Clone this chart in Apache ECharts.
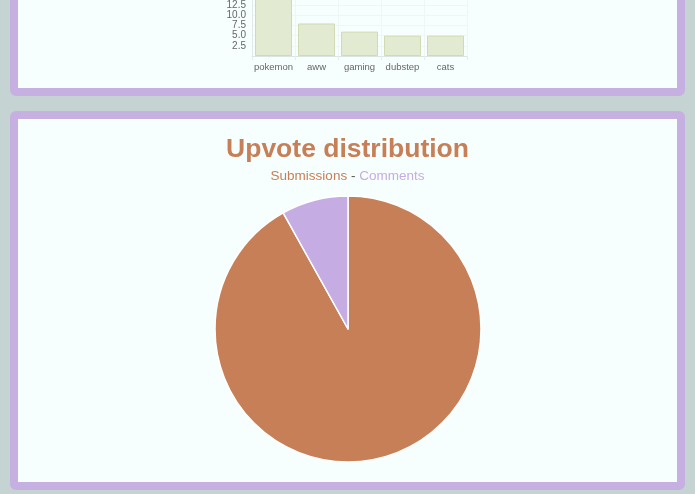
<!DOCTYPE html>
<html lang="en">
<head>
	<meta charset="UTF-8">
	<title>Upvote distribution</title>
	<style>
		html, body { margin: 0; padding: 0; width: 695px; height: 494px; overflow: hidden; background: #c5d3d3; }
		.card { position: absolute; left: 10px; width: 675px; box-sizing: border-box; border: 8px solid #c6afe1; border-radius: 6px; background: #f7fffe; }
		#top { top: -200px; height: 296px; }
		#bottom { top: 111px; height: 379px; }
		.chart { width: 100%; height: 100%; }
	</style>
</head>
<body>
	<div class="card" id="top"><div class="chart" id="bars"></div></div>
	<div class="card" id="bottom"><div class="chart" id="pie"></div></div>
	<script src="https://cdn.jsdelivr.net/npm/echarts@6/dist/echarts.min.js"></script>
	<script>
		// top chart (only its bottom part is on screen)
		var subreddits = ['pokemon', 'aww', 'gaming', 'dubstep', 'cats']
		var postCounts = [14, 8, 6, 5, 5]
		var yTicks = [0, 2.5, 5, 7.5, 10, 12.5, 15]

		// upvote pie
		var pieNames = ['Submissions', 'Comments']
		var pieValues = [91.9, 8.1]
		var pieColors = ['#c67f57', '#c5ade3']

		var font = "'Liberation Sans', Arial, sans-serif"

		var barChart = echarts.init(document.getElementById('bars'))
		barChart.setOption({
			animation: false,
			grid: { left: 234, right: 210, top: 187, bottom: 32 },
			xAxis: {
				type: 'category',
				data: subreddits,
				axisLine: { lineStyle: { color: '#dde3e3' } },
				axisTick: { show: true, length: 4, lineStyle: { color: '#e6ecec' } },
				splitLine: { show: true, lineStyle: { color: '#f0f5f5' } },
				axisLabel: { interval: 0, color: '#666', fontSize: 9.5, fontFamily: font, margin: 6 }
			},
			yAxis: {
				type: 'value',
				min: yTicks[0],
				max: yTicks[yTicks.length - 1],
				interval: 2.5,
				axisLine: { show: true, lineStyle: { color: '#e3e9e9' } },
				axisTick: { show: false },
				splitLine: { lineStyle: { color: '#f0f5f5' } },
				axisLabel: {
					color: '#666', fontSize: 10, fontFamily: font, margin: 6,
					formatter: function (v) { return v === 0 ? '' : v.toFixed(1) }
				}
			},
			series: [{
				type: 'bar',
				data: postCounts,
				barCategoryGap: '14%',
				itemStyle: { color: '#e3ead2', borderColor: '#d2dab3', borderWidth: 1 }
			}]
		})

		var pieChart = echarts.init(document.getElementById('pie'))
		pieChart.setOption({
			animation: false,
			title: {
				left: 'center',
				top: 12,
				text: 'Upvote distribution',
				subtext: '{a|Submissions} {b|-} {c|Comments}',
				itemGap: 6,
				textStyle: { color: '#c67f57', fontSize: 26.5, fontWeight: 'bold', fontFamily: font },
				subtextStyle: {
					fontSize: 13.5, fontFamily: font,
					rich: {
						a: { color: '#c67f57', fontSize: 13.5, fontFamily: font },
						b: { color: '#555', fontSize: 13.5, fontFamily: font },
						c: { color: '#c5ade3', fontSize: 13.5, fontFamily: font }
					}
				}
			},
			series: [{
				type: 'pie',
				center: [330, 210],
				radius: 133,
				startAngle: 90,
				label: { show: false },
				labelLine: { show: false },
				itemStyle: { borderColor: '#fff', borderWidth: 1.5 },
				data: pieNames.map(function (n, i) {
					return { name: n, value: pieValues[i], itemStyle: { color: pieColors[i] } }
				})
			}]
		})
	</script>
</body>
</html>
